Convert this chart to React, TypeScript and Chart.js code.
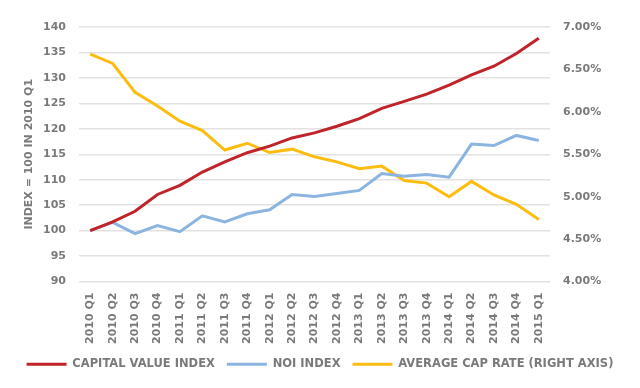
import React, { useEffect, useRef } from "react";
import { Chart, registerables } from "chart.js";

Chart.register(...registerables);

const categories = [
  "2010 Q1", "2010 Q2", "2010 Q3", "2010 Q4",
  "2011 Q1", "2011 Q2", "2011 Q3", "2011 Q4",
  "2012 Q1", "2012 Q2", "2012 Q3", "2012 Q4",
  "2013 Q1", "2013 Q2", "2013 Q3", "2013 Q4",
  "2014 Q1", "2014 Q2", "2014 Q3", "2014 Q4",
  "2015 Q1",
];

const capitalValueIndex = [
  100.0, 101.7, 103.8, 107.1, 108.9, 111.5, 113.5, 115.3, 116.6, 118.2, 119.2,
  120.5, 122.0, 124.0, 125.4, 126.8, 128.6, 130.6, 132.3, 134.8, 137.8,
];

const noiIndex = [
  100.0, 101.6, 99.4, 101.0, 99.8, 102.9, 101.7, 103.3, 104.1, 107.1, 106.7,
  107.3, 107.9, 111.2, 110.7, 111.0, 110.5, 117.0, 116.7, 118.7, 117.7,
];

const averageCapRate = [
  6.68, 6.57, 6.23, 6.07, 5.89, 5.78, 5.55, 5.63, 5.52, 5.56, 5.47,
  5.41, 5.33, 5.36, 5.19, 5.16, 5.0, 5.18, 5.02, 4.91, 4.73,
];

const seriesNames = ["CAPITAL VALUE INDEX", "NOI INDEX", "AVERAGE CAP RATE (RIGHT AXIS)"];
const leftAxisTitle = "INDEX = 100 IN 2010 Q1";

const RED = "#c1232b";
const BLUE = "#8cb4e0";
const YELLOW = "#fdbd10";
const TEXT = "#7a7a7a";
const FONT = "'DejaVu Sans', sans-serif";

export default function App() {
  const ref = useRef<HTMLCanvasElement | null>(null);

  useEffect(() => {
    document.body.style.margin = "0";
    const canvas = ref.current;
    if (!canvas) return;
    const chart = new Chart(canvas, {
      type: "line",
      data: {
        labels: categories,
        datasets: [
          {
            label: seriesNames[0],
            data: capitalValueIndex,
            borderColor: RED,
            backgroundColor: RED,
            borderWidth: 3,
            pointRadius: 0,
            tension: 0,
            yAxisID: "y",
          },
          {
            label: seriesNames[1],
            data: noiIndex,
            borderColor: BLUE,
            backgroundColor: BLUE,
            borderWidth: 3,
            pointRadius: 0,
            tension: 0,
            yAxisID: "y",
          },
          {
            label: seriesNames[2],
            data: averageCapRate,
            borderColor: YELLOW,
            backgroundColor: YELLOW,
            borderWidth: 3,
            pointRadius: 0,
            tension: 0,
            yAxisID: "y1",
          },
        ],
      },
      options: {
        responsive: false,
        animation: false,
        layout: { padding: { top: 27, left: 0, right: 0, bottom: 8 } },
        plugins: {
          tooltip: { enabled: false },
          legend: {
            position: "bottom",
            labels: {
              boxWidth: 40,
              boxHeight: 3,
              padding: 12,
              color: TEXT,
              font: { family: FONT, size: 11.5, weight: "bold" },
              generateLabels: (c: any) =>
                Chart.defaults.plugins.legend.labels
                  .generateLabels(c)
                  .map((l: any) => ({ ...l, lineWidth: 0, fillStyle: l.strokeStyle })),
            },
          },
        },
        scales: {
          x: {
            offset: true,
            grid: { display: false, drawTicks: false },
            border: { display: false },
            ticks: {
              color: TEXT,
              font: { family: FONT, size: 11, weight: "bold" },
              minRotation: 90,
              maxRotation: 90,
              autoSkip: false,
              padding: 11,
            },
            afterFit: (s: any) => {
              s.height = 65;
            },
          },
          y: {
            position: "left",
            min: 90,
            max: 140,
            ticks: {
              stepSize: 5,
              color: TEXT,
              font: { family: FONT, size: 11, weight: "bold" },
              padding: 13,
            },
            grid: { color: "#e2e2e2", lineWidth: 1.5, drawTicks: false },
            border: { display: false },
            title: {
              display: true,
              text: leftAxisTitle,
              color: TEXT,
              font: { family: FONT, size: 11, weight: "bold" },
              padding: { top: 23, bottom: 0 },
            },
            afterFit: (s: any) => {
              s.width = 79;
            },
          },
          y1: {
            position: "right",
            min: 4,
            max: 7,
            ticks: {
              stepSize: 0.5,
              color: TEXT,
              font: { family: FONT, size: 11, weight: "bold" },
              padding: 13,
              callback: (v: any) => Number(v).toFixed(2) + "%",
            },
            grid: { display: false, drawTicks: false },
            border: { display: false },
            afterFit: (s: any) => {
              s.width = 90;
            },
          },
        },
      },
    });
    return () => chart.destroy();
  }, []);

  return (
    <div style={{ position: "relative", width: 640, height: 388, background: "#fff" }}>
      <canvas ref={ref} width={640} height={388} />
    </div>
  );
}
